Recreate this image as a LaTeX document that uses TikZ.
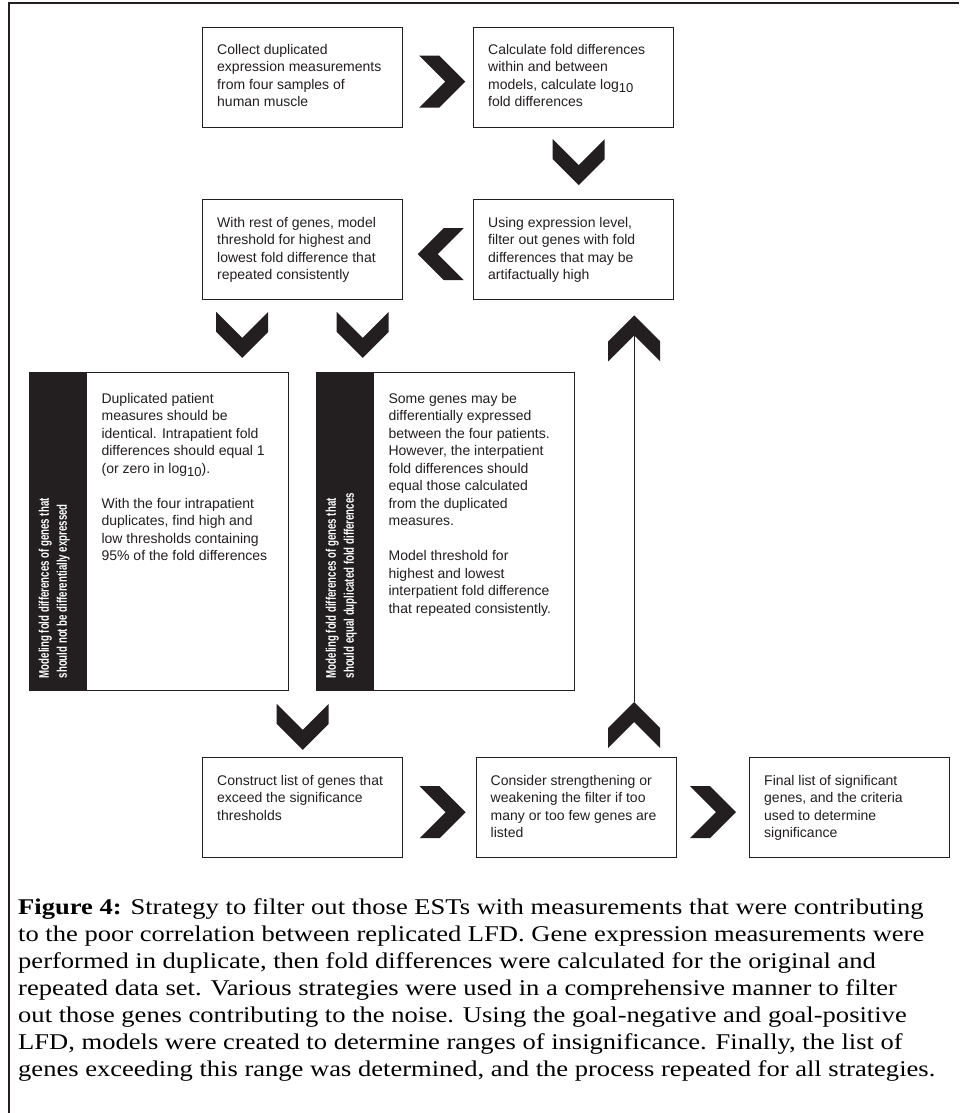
\documentclass[tikz,border=0pt]{standalone}
\usepackage{fontspec}
\setmainfont{Liberation Serif}
\setsansfont{Liberation Sans}
\usepackage{graphicx}
\usetikzlibrary{calc}
\definecolor{ink}{HTML}{231F20}
\newcommand{\capl}[1]{\scalebox{1.18}[1]{#1}}
\newcommand{\bandl}[1]{\scalebox{0.69}[1]{#1}}
\newcommand{\lgsub}{\raisebox{-3.5pt}{\fontsize{13}{13}\selectfont 10}}
\tikzset{
  box/.style={draw=ink, line width=1.4pt, minimum width=200pt, minimum height=100pt, inner sep=0, anchor=north west},
  tallbox/.style={draw=ink, line width=1.4pt, inner sep=0, anchor=north west, minimum height=318pt},
  bandbox/.style={fill=ink, inner sep=0, anchor=north west, minimum width=58pt, minimum height=318pt},
  txt/.style={anchor=north west, inner sep=0, align=left, font=\sffamily\fontsize{14}{17.5}\selectfont, text=ink},
  bandtxt/.style={anchor=west, rotate=90, inner sep=0, align=left, text=white, font=\sffamily\bfseries\fontsize{14}{18}\selectfont},
  chev/.pic={\fill[ink] (-23,-26) -- (-3,-26) -- (23,0) -- (-3,26) -- (-23,26) -- (3,0) -- cycle;},
  framestyle/.style={draw=ink, line width=2pt},
  conn/.style={draw=ink, line width=1pt},
  captxt/.style={anchor=north west, inner sep=0, align=left, font=\rmfamily\fontsize{22.5}{27}\selectfont, text=black},
}
\begin{document}
\begin{tikzpicture}[x=1pt,y=-1pt]
\useasboundingbox (0,0) rectangle (959,1113);
\fill[white] (0,0) rectangle (959,1113);
% frame
\draw[framestyle] (959,3) -- (9,3) -- (9,1113);
% top boxes
\node[box] (b1) at (202,27) {};
\node[box] (b2) at (473,27) {};
\node[txt] (t1) at ($(b1.north west)+(15,17)$) {Collect duplicated\\expression measurements\\from four samples of\\human muscle};
\node[txt] (t2) at ($(b2.north west)+(15,17)$) {Calculate fold differences\\within and between\\models, calculate log\lgsub\\fold differences};
\node[box] (b3) at (202,199) {};
\node[box] (b4) at (473,199) {};
\node[txt] (t3) at ($(b3.north west)+(15,18)$) {With rest of genes, model\\threshold for highest and\\lowest fold difference that\\repeated consistently};
\node[txt] (t4) at ($(b4.north west)+(15,18)$) {Using expression level,\\filter out genes with fold\\differences that may be\\artifactually high};
% tall boxes
\node[tallbox, minimum width=259pt] (tb1) at (29,372) {};
\node[bandbox] (bd1) at (29,372) {};
\node[bandtxt] (bl1) at ($(bd1.south)+(-4,-12)$) {\bandl{Modeling fold differences of genes that}\\\bandl{should not be differentially expressed}};
\node[txt] (tt1) at ($(bd1.north east)+(14,21)$) {Duplicated patient\\measures should be\\identical. Intrapatient fold\\differences should equal 1\\(or zero in log\lgsub).\\[17.5pt]With the four intrapatient\\duplicates, find high and\\low thresholds containing\\95\% of the fold differences};
\node[tallbox, minimum width=258pt] (tb2) at (316,372) {};
\node[bandbox] (bd2) at (316,372) {};
\node[bandtxt] (bl2) at ($(bd2.south)+(-4,-12)$) {\bandl{Modeling fold differences of genes that}\\\bandl{should equal duplicated fold differences}};
\node[txt] (tt2) at ($(bd2.north east)+(14,21)$) {Some genes may be\\differentially expressed\\between the four patients.\\However, the interpatient\\fold differences should\\equal those calculated\\from the duplicated\\measures.\\[17.5pt]Model threshold for\\highest and lowest\\interpatient fold difference\\that repeated consistently.};
% bottom boxes
\node[box] (b5) at (202,757) {};
\node[box] (b6) at (475.5,757) {};
\node[box] (b7) at (749,757) {};
\node[txt] (t5) at ($(b5.north west)+(15,18)$) {Construct list of genes that\\exceed the significance\\thresholds};
\node[txt] (t6) at ($(b6.north west)+(15,18)$) {Consider strengthening or\\weakening the filter if too\\many or too few genes are\\listed};
\node[txt] (t7) at ($(b7.north west)+(15,18)$) {Final list of significant\\genes, and the criteria\\used to determine\\significance};
% chevrons
\pic at ($(b1.east)!0.5!(b2.west)+(4,4)$) {chev};
\pic[rotate=-90] at ($(b2.south)!0.5!(b4.north)+(5,-1.5)$) {chev};
\pic[rotate=180] at ($(b3.east)!0.5!(b4.west)+(2.5,4.5)$) {chev};
\pic[rotate=-90] at ($(b3.south)+(-60.5,34.5)$) {chev};
\pic[rotate=-90] at ($(b3.south)+(60,34.5)$) {chev};
\pic[rotate=90] at ($(b4.south)+(60.5,38)$) {chev};
\pic[rotate=-90] at ($(tb1.south east)!0.5!(tb2.south west)+(0,35.5)$) {chev};
\pic[rotate=90] at ($(b6.north)+(58,-32)$) {chev};
\pic at ($(b5.east)!0.5!(b6.west)+(3.25,4.5)$) {chev};
\pic at ($(b6.east)!0.5!(b7.west)+(0,4.5)$) {chev};
% feedback line
\coordinate (ln1) at ($(b4.south)+(60.5,35)$);
\coordinate (ln2) at ($(b6.north)+(58,-55)$);
\draw[conn] (ln1) -- (ln2);
% caption
\node[captxt] (cap) at (18,898) {\capl{\textbf{Figure 4:} Strategy to filter out those ESTs with measurements that were contributing}\\
\capl{to the poor correlation between replicated LFD. Gene expression measurements were}\\
\capl{performed in duplicate, then fold differences were calculated for the original and}\\
\capl{repeated data set. Various strategies were used in a comprehensive manner to filter}\\
\capl{out those genes contributing to the noise. Using the goal-negative and goal-positive}\\
\capl{LFD, models were created to determine ranges of insignificance. Finally, the list of}\\
\capl{genes exceeding this range was determined, and the process repeated for all strategies.}};
\end{tikzpicture}
\end{document}
